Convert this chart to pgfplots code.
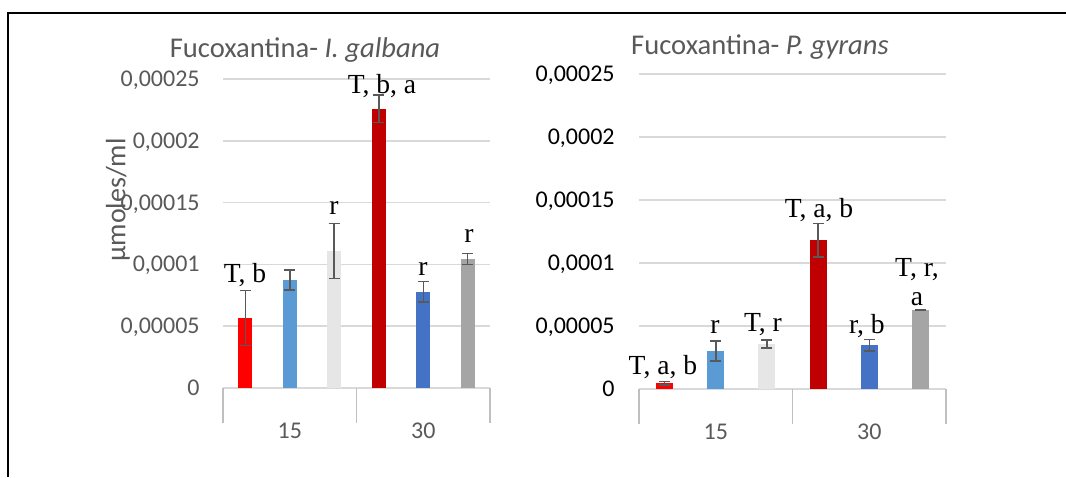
\documentclass[border=0pt]{standalone}
\usepackage{fontspec}
\setmainfont{Carlito}
\newfontfamily\timesfont{Liberation Serif}
\usepackage{pgfplots}
\pgfplotsset{compat=1.18}

\definecolor{txtgray}{HTML}{595959}
\definecolor{gridgray}{HTML}{D9D9D9}
\definecolor{sepgray}{HTML}{BFBFBF}
\definecolor{errgray}{HTML}{595959}
\definecolor{cRed}{HTML}{FF0000}
\definecolor{cLBlue}{HTML}{5B9BD5}
\definecolor{cLGray}{HTML}{E7E6E6}
\definecolor{cDRed}{HTML}{C00000}
\definecolor{cBlue}{HTML}{4472C4}
\definecolor{cGray}{HTML}{A5A5A5}

\pgfplotsset{
  fuco/.style={
    scale only axis, anchor=south west,
    xmin=-0.5, xmax=1.5, ymin=0, ymax=0.00025,
    axis line style={draw=none},
    xtick={0,1}, xticklabels={15,30},
    xtick style={draw=none}, ytick style={draw=none},
    ytick={0,0.00005,0.0001,0.00015,0.0002,0.00025},
    yticklabels={0,{0,00005},{0,0001},{0,00015},{0,0002},{0,00025}},
    scaled y ticks=false,
    ymajorgrids, grid style={gridgray, line width=0.75pt},
    xticklabel style={anchor=center, yshift=-17pt, inner sep=0pt,
      font=\fontsize{12}{14}\selectfont, text=txtgray},
    yticklabel style={anchor=base east, inner sep=0pt, yshift=-3.8pt,
      font=\fontsize{12}{14}\selectfont},
    ybar, bar shift=0pt,
    clip=false,
    error bars/y dir=both, error bars/y explicit,
    error bars/error bar style={errgray, line width=0.75pt},
    error bars/error mark options={errgray, rotate=90, mark size=2.75pt, line width=0.75pt},
  },
}
\tikzset{lab/.style={anchor=base, inner sep=0pt, font=\timesfont\fontsize{13.8}{16}\selectfont},
  ttl/.style={anchor=base, inner sep=0pt, text=txtgray, font=\fontsize{14.3}{17}\selectfont}}

\begin{document}
\begin{tikzpicture}[x=0.5pt, y=0.5pt]
\useasboundingbox (0,0) rectangle (1066,477);
% frame
\draw[line width=1pt] (8,0) -- (8,464) -- (1066,464);

% titles and y label
\node[ttl] at (305,419) {Fucoxantina- \textit{I. galbana}};
\node[ttl] at (760,422) {Fucoxantina- \textit{P. gyrans}};
\node[rotate=90, inner sep=0pt, text=txtgray, font=\fontsize{14}{16}\selectfont]
  at (118,277) {µmoles/ml};

% I. galbana
\begin{axis}[fuco, at={(111.5pt,44.5pt)}, width=133.5pt, height=154.5pt,
  yticklabel style={text=txtgray, xshift=-11.5pt}]
\addplot[fill=cRed, draw=none, bar width=7pt]
  coordinates {(-0.3333,0.0000566) +- (0,0.0000224)};
\addplot[fill=cLBlue, draw=none, bar width=7pt]
  coordinates {(0,0.0000874) +- (0,0.0000081)};
\addplot[fill=cLGray, draw=none, bar width=7pt]
  coordinates {(0.3333,0.0001108) +- (0,0.0000222)};
\addplot[fill=cDRed, draw=none, bar width=7pt]
  coordinates {(0.6667,0.000226) +- (0,0.000011)};
\addplot[fill=cBlue, draw=none, bar width=7pt]
  coordinates {(1,0.0000777) +- (0,0.0000083)};
\addplot[fill=cGray, draw=none, bar width=7pt]
  coordinates {(1.3333,0.0001044) +- (0,0.0000043)};
\draw[sepgray, line width=0.6pt] (axis cs:-0.5,0) -- ++(0pt,-17.5pt);
\draw[sepgray, line width=0.6pt] (axis cs:0.5,0) -- ++(0pt,-17.5pt);
\draw[sepgray, line width=0.6pt] (axis cs:1.5,0) -- ++(0pt,-17.5pt);
\node[lab] at (axis cs:-0.335,0.0000850) {T, b};
\node[lab] at (axis cs:0.331,0.0001400) {r};
\node[lab] at (axis cs:0.691,0.0002379) {T, b, a};
\node[lab] at (axis cs:0.998,0.0000909) {r};
\node[lab] at (axis cs:1.343,0.0001181) {r};
\end{axis}

% P. gyrans
\begin{axis}[fuco, at={(319.5pt,44pt)}, width=153.5pt, height=157.5pt,
  yticklabel style={text=black, xshift=-12pt}]
\addplot[fill=cRed, draw=none, bar width=8.5pt]
  coordinates {(-0.3333,0.0000045) +- (0,0.0000015)};
\addplot[fill=cLBlue, draw=none, bar width=8.5pt]
  coordinates {(0,0.0000302) +- (0,0.0000078)};
\addplot[fill=cLGray, draw=none, bar width=8.5pt]
  coordinates {(0.3333,0.0000357) +- (0,0.0000032)};
\addplot[fill=cDRed, draw=none, bar width=8.5pt]
  coordinates {(0.6667,0.000118) +- (0,0.0000132)};
\addplot[fill=cBlue, draw=none, bar width=8.5pt]
  coordinates {(1,0.0000347) +- (0,0.0000045)};
\addplot[fill=cGray, draw=none, bar width=8.5pt]
  coordinates {(1.3333,0.0000627) +- (0,0.0000005)};
\draw[sepgray, line width=0.6pt] (axis cs:-0.5,0) -- ++(0pt,-17.5pt);
\draw[sepgray, line width=0.6pt] (axis cs:0.5,0) -- ++(0pt,-17.5pt);
\draw[sepgray, line width=0.6pt] (axis cs:1.5,0) -- ++(0pt,-17.5pt);
\node[lab] at (axis cs:-0.344,0.0000119) {T, a, b};
\node[lab] at (axis cs:-0.005,0.0000444) {r};
\node[lab] at (axis cs:0.308,0.0000460) {T, r};
\node[lab] at (axis cs:0.673,0.0001365) {T, a, b};
\node[lab] at (axis cs:0.985,0.0000444) {r, b};
\node[lab] at (axis cs:1.311,0.0000889) {T, r,};
\node[lab] at (axis cs:1.311,0.0000659) {a};
\end{axis}
\end{tikzpicture}
\end{document}
